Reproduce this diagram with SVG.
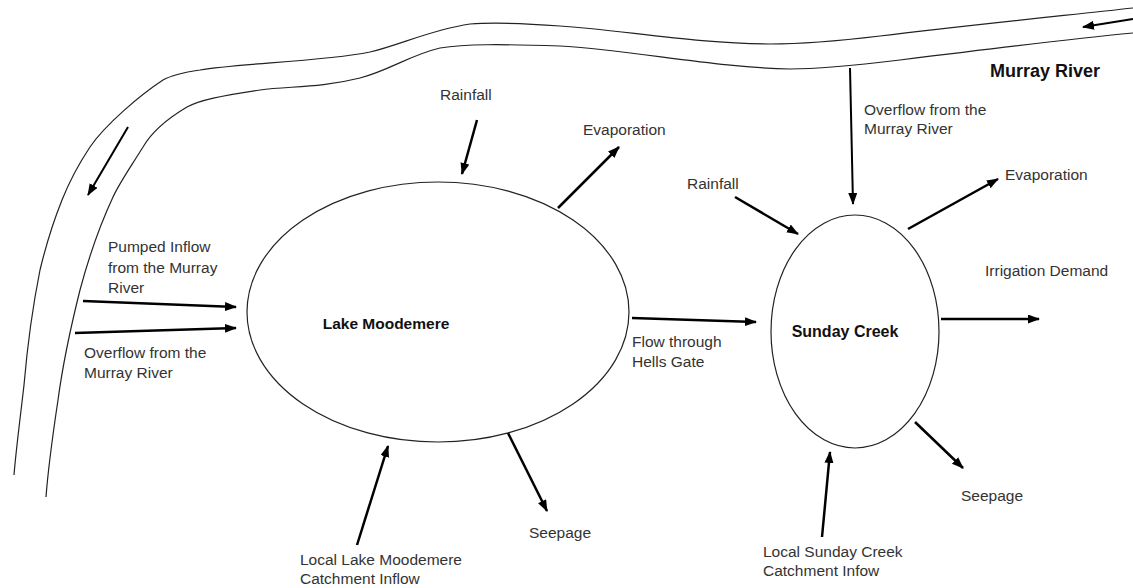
<svg xmlns="http://www.w3.org/2000/svg" width="1133" height="588" viewBox="0 0 1133 588">
<defs>
<marker id="ah" markerUnits="userSpaceOnUse" markerWidth="13" markerHeight="10" refX="11" refY="4.5" orient="auto">
<path d="M0,0 L12,4.5 L0,9 z" fill="#000"/>
</marker>
<style>
.t{font-family:"Liberation Sans",Arial,sans-serif;font-size:15.5px;fill:#333}
.b{font-family:"Liberation Sans",Arial,sans-serif;font-weight:bold;fill:#111}
.bank{fill:none;stroke:#222;stroke-width:1.2}
.node{fill:#fff;stroke:#222;stroke-width:1.2}
.c{fill:none;stroke:#000;stroke-width:2.5;marker-end:url(#ah)}
.cs{fill:none;stroke:#000;stroke-width:2;marker-end:url(#ah)}
</style>
</defs>
<rect width="1133" height="588" fill="#fff"/>
<g id="murray-river">
<path class="bank" d="M1133 8 C1060 16,960 26,880 36 C830 42,800 44,770 44 C700 44,620 30,560 26 C520 23,495 22,470 24 C430 30,400 45,370 52 C320 62,240 63,200 70 C180 73,170 76,163 80 C140 95,105 125,90 147 C78 165,70 180,62 200 C52 225,46 245,40 270 C32 310,27 350,24 385 C20 420,16 450,14 475"/>
<path class="bank" d="M1133 33 C1060 40,980 50,900 60 C850 66,810 69,790 69 C720 68,630 50,560 46 C500 44,465 44,440 48 C410 55,390 70,360 78 C320 88,290 86,260 90 C220 96,200 100,187 107 C165 120,150 135,143 147 C130 168,120 182,113 197 C100 225,88 260,80 290 C70 330,62 370,58 400 C52 440,48 470,46 497"/>
<text class="b" x="990" y="77" font-size="18">Murray River</text>
</g>
<g id="lake-moodemere">
<ellipse class="node" cx="438" cy="312" rx="191" ry="130"/>
<text class="b" x="386" y="329" font-size="15.5" text-anchor="middle">Lake Moodemere</text>
</g>
<g id="sunday-creek">
<ellipse class="node" cx="855" cy="331.5" rx="84" ry="116.5"/>
<text class="b" x="845" y="337" font-size="16" text-anchor="middle">Sunday Creek</text>
</g>
<g id="connectors">
<line class="cs" x1="128" y1="127" x2="88" y2="195"/>
<line class="cs" x1="1133" y1="19" x2="1083" y2="27"/>
<line class="c" x1="477" y1="120" x2="462" y2="174"/>
<line class="c" x1="558" y1="208" x2="619" y2="147"/>
<line class="c" x1="83" y1="301" x2="236" y2="307"/>
<line class="c" x1="75" y1="333" x2="236" y2="328"/>
<line class="c" x1="357" y1="545" x2="388" y2="446"/>
<line class="c" x1="508" y1="433" x2="547" y2="511"/>
<line class="c" x1="632" y1="318" x2="756" y2="322"/>
<line class="c" x1="735" y1="197" x2="798" y2="234"/>
<line class="cs" x1="850" y1="68" x2="853" y2="204"/>
<line class="c" x1="908" y1="229" x2="998" y2="179"/>
<line class="c" x1="941" y1="319" x2="1039" y2="319"/>
<line class="c" x1="915" y1="422" x2="963" y2="468"/>
<line class="c" x1="822" y1="537" x2="830" y2="452"/>
</g>
<g id="labels">
<text class="t" x="440" y="100">Rainfall</text>
<text class="t" x="583" y="135">Evaporation</text>
<text class="t" x="108" y="252">Pumped Inflow</text>
<text class="t" x="108" y="273">from the Murray</text>
<text class="t" x="108" y="293">River</text>
<text class="t" x="84" y="358">Overflow from the</text>
<text class="t" x="84" y="378">Murray River</text>
<text class="t" x="300" y="565">Local Lake Moodemere</text>
<text class="t" x="300" y="584">Catchment Inflow</text>
<text class="t" x="529" y="538">Seepage</text>
<text class="t" x="632" y="347">Flow through</text>
<text class="t" x="632" y="367">Hells Gate</text>
<text class="t" x="687" y="189">Rainfall</text>
<text class="t" x="864" y="115">Overflow from the</text>
<text class="t" x="864" y="134">Murray River</text>
<text class="t" x="1005" y="180">Evaporation</text>
<text class="t" x="985" y="276">Irrigation Demand</text>
<text class="t" x="961" y="501">Seepage</text>
<text class="t" x="763" y="557">Local Sunday Creek</text>
<text class="t" x="763" y="576">Catchment Infow</text>
</g>
</svg>
